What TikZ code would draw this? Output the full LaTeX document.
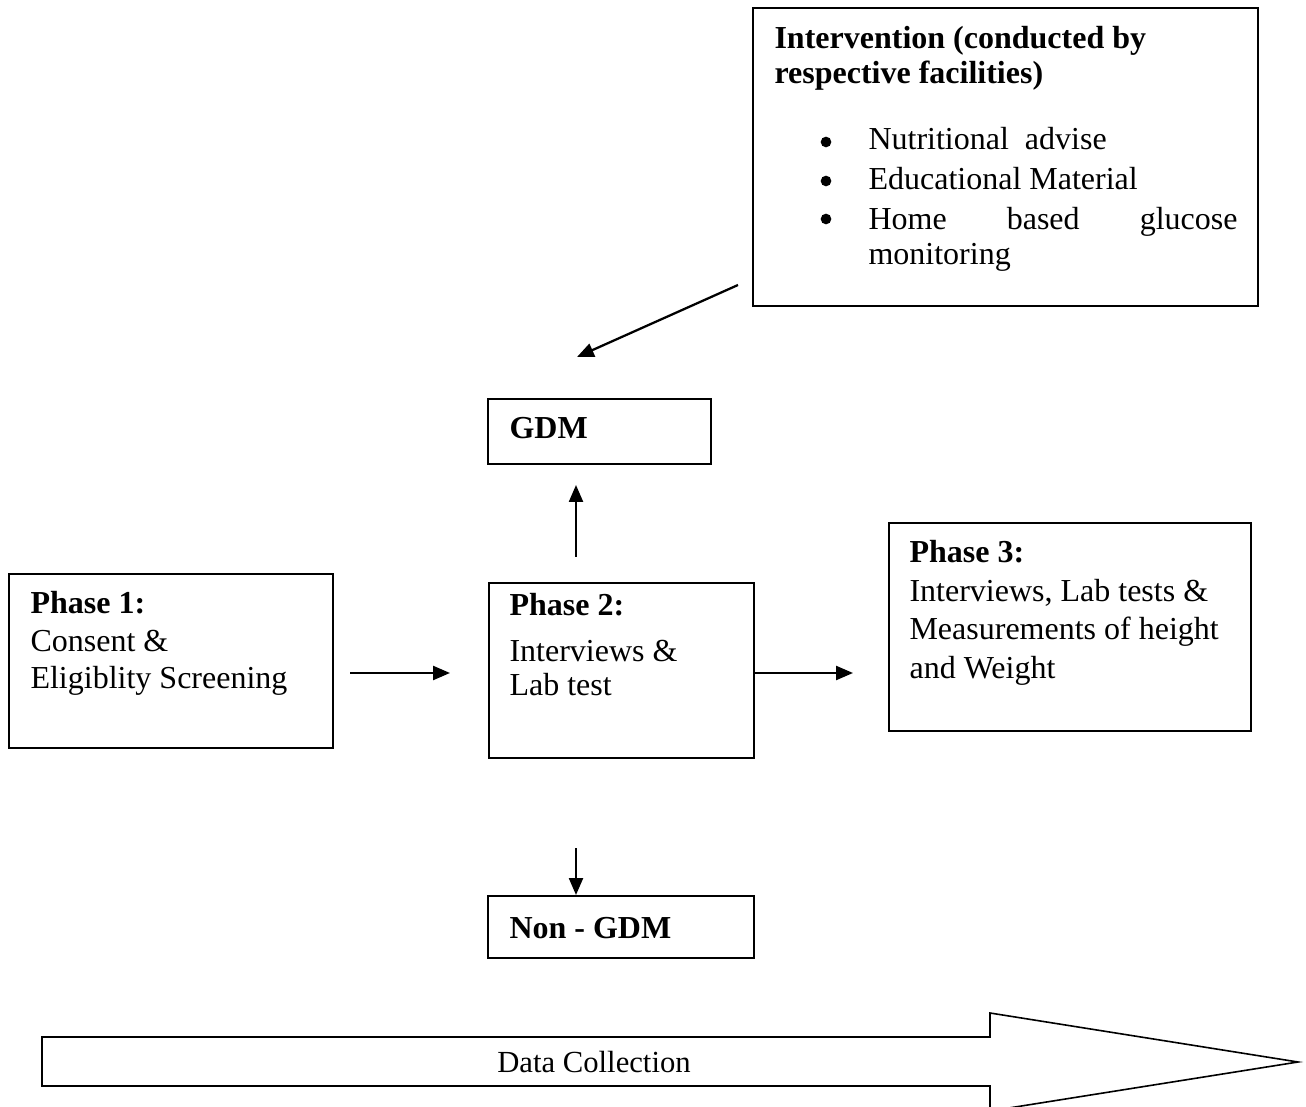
\documentclass[tikz,border=0pt]{standalone}
\usepackage{fontspec}
\setmainfont{Liberation Serif}
\usetikzlibrary{arrows.meta,calc}
\newdimen\pxu \pxu=0.375pt
\newcommand{\txtblock}[2]{\parbox[t]{14cm}{\raggedright\fontsize{12pt}{#1}\selectfont #2}}
\newcommand{\bulspace}{\makebox[50\pxu][l]{}}
\begin{document}
\begin{tikzpicture}[x=0.375pt,y=-0.375pt,
  boxn/.style={draw=black, line width=0.75pt, anchor=north west, inner sep=0pt},
  txt/.style={anchor=base west, inner sep=0pt, font=\fontsize{12pt}{14pt}\selectfont},
  arr/.style={line width=0.85pt, -{Triangle[length=6.3pt,width=5.2pt]}},
  bul/.style={fill=black}]
\useasboundingbox (0,0) rectangle (1306,1107);

% boxes
\node[boxn, minimum width=505\pxu, minimum height=298\pxu] (interv) at (752,7) {};
\node[boxn, minimum width=223\pxu, minimum height=65\pxu] (gdm) at (487,398) {};
\node[boxn, minimum width=324\pxu, minimum height=174\pxu] (p1) at (8,573) {};
\node[boxn, minimum width=265\pxu, minimum height=175\pxu] (p2) at (488,582) {};
\node[boxn, minimum width=362\pxu, minimum height=208\pxu] (p3) at (888,522) {};
\node[boxn, minimum width=266\pxu, minimum height=62\pxu] (ngdm) at (487,895) {};

% texts
\node[txt] (intervtitle) at (774,49) {\txtblock{13.1pt}{\bfseries Intervention (conducted by\\respective facilities)}};
\node[txt] (intervlist) at (818,150) {\txtblock{15pt}{%
  \bulspace Nutritional\ \ advise\\
  \bulspace Educational Material\\
  \bulspace\makebox[369\pxu][s]{Home\hfill based\hfill glucose}\\[-1.9pt]
  \bulspace monitoring}};
% bullets
\fill[bul] (826,142) circle[radius=2pt];
\fill[bul] (826,181) circle[radius=2pt];
\fill[bul] (826,219) circle[radius=2pt];

\node[txt] (gdmtext) at (509,439) {\bfseries GDM};
\node[txt] (p1text) at (30,614) {\txtblock{14.06pt}{\textbf{Phase 1:}\\Consent \&\\Eligiblity Screening}};
\node[txt] (p2text) at (509,616) {\txtblock{14pt}{\textbf{Phase 2:}\\[2.9pt]Interviews \&\\[-0.9pt]Lab test}};
\node[txt] (p3text) at (909,563) {\txtblock{14.4pt}{\textbf{Phase 3:}\\Interviews, Lab tests \&\\Measurements of height\\and Weight}};
\node[txt] (ngdmtext) at (509,938) {\bfseries Non - GDM};

% connectors
\coordinate (ia) at (738,285);
\coordinate (ib) at (577,357);
\draw[arr] (ia) -- (ib);
\coordinate (vx) at (576,0);
\coordinate (hy) at (0,673);
\draw[arr, shorten <=25\pxu, shorten >=20\pxu] (p2.north -| vx) -- (gdm.south -| vx);
\draw[arr, shorten <=16\pxu, shorten >=38\pxu] (p1.east |- hy) -- (p2.west |- hy);
\draw[arr, shorten >=35\pxu] (p2.east |- hy) -- (p3.west |- hy);
\draw[arr, shorten <=89\pxu] (p2.south -| vx) -- (ngdm.north -| vx);

% data collection arrow
\draw[line width=0.6pt] (42,1037) -- (990,1037) -- (990,1013) -- (1298,1062) -- (990,1111) -- (990,1086) -- (42,1086) -- cycle;
\node[inner sep=0pt, font=\fontsize{11.5pt}{14pt}\selectfont] (dc) at (594,1062) {Data Collection};
\end{tikzpicture}
\end{document}
